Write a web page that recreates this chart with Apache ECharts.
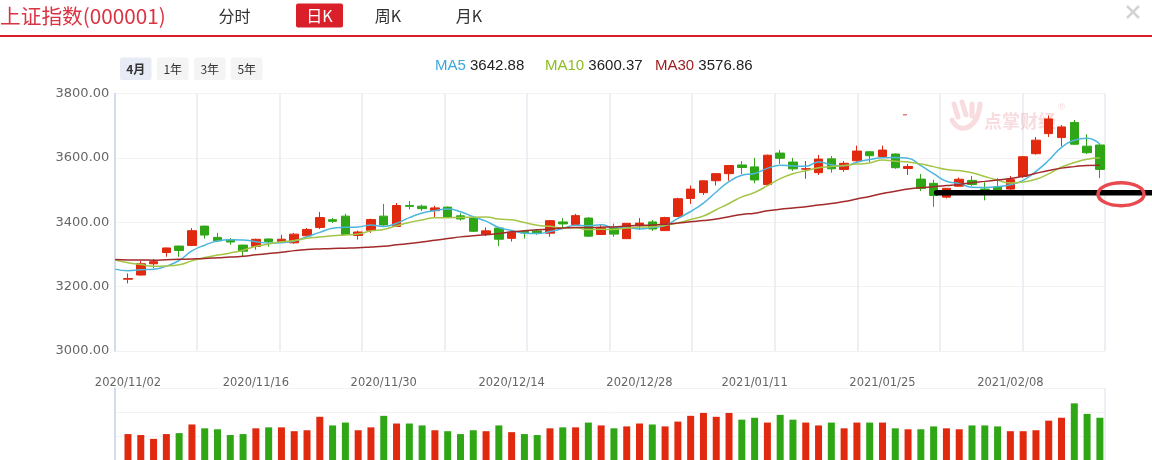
<!DOCTYPE html>
<html><head><meta charset="utf-8">
<script src="https://cdn.jsdelivr.net/npm/echarts@6/dist/echarts.min.js"></script>
<style>html,body{margin:0;padding:0;background:#fff;}#c{width:1152px;height:460px;}</style>
</head><body><div id="c"></div>
<script>
// ---------------- data ----------------
const title = '上证指数(000001)';
const viewTabs = ['分时', '日K', '周K', '月K'];
const periodTabs = ['4月', '1年', '3年', '5年'];
const dates = [
 '2020/11/02','2020/11/03','2020/11/04','2020/11/05','2020/11/06','2020/11/09','2020/11/10','2020/11/11','2020/11/12','2020/11/13',
 '2020/11/16','2020/11/17','2020/11/18','2020/11/19','2020/11/20','2020/11/23','2020/11/24','2020/11/25','2020/11/26','2020/11/27',
 '2020/11/30','2020/12/01','2020/12/02','2020/12/03','2020/12/04','2020/12/07','2020/12/08','2020/12/09','2020/12/10','2020/12/11',
 '2020/12/14','2020/12/15','2020/12/16','2020/12/17','2020/12/18','2020/12/21','2020/12/22','2020/12/23','2020/12/24','2020/12/25',
 '2020/12/28','2020/12/29','2020/12/30','2020/12/31','2021/01/04','2021/01/05','2021/01/06','2021/01/07','2021/01/08','2021/01/11',
 '2021/01/12','2021/01/13','2021/01/14','2021/01/15','2021/01/18','2021/01/19','2021/01/20','2021/01/21','2021/01/22','2021/01/25',
 '2021/01/26','2021/01/27','2021/01/28','2021/01/29','2021/02/01','2021/02/02','2021/02/03','2021/02/04','2021/02/05','2021/02/08',
 '2021/02/09','2021/02/10','2021/02/18','2021/02/19','2021/02/22','2021/02/23','2021/02/24'];
const opens = [
 3223,3236,3271,3306,3326,3328,3388,3353,3346,3329,
 3325,3348,3340,3336,3358,3384,3408,3419,3359,3375,
 3419,3387,3452,3450,3436,3447,3420,3415,3363,3382,
 3350,3371,3373,3366,3401,3393,3413,3362,3384,3349,
 3391,3401,3374,3418,3474,3492,3529,3551,3578,3572,
 3517,3615,3587,3565,3554,3597,3564,3591,3619,3604,
 3612,3567,3534,3521,3478,3512,3530,3503,3510,3503,
 3542,3613,3721,3663,3710,3616,3640];
const closes = [
 3225.12,3271.07,3277.44,3320.13,3312.16,3373.73,3360.15,3342.20,3338.68,3310.10,
 3346.97,3339.90,3347.30,3363.09,3377.73,3414.49,3402.82,3362.33,3369.73,3408.31,
 3391.76,3451.94,3449.38,3442.14,3444.58,3416.60,3410.18,3371.96,3373.28,3347.19,
 3369.12,3367.23,3366.98,3404.87,3394.90,3420.57,3356.78,3382.32,3363.11,3396.56,
 3397.29,3379.04,3414.45,3473.07,3502.96,3528.68,3550.88,3576.20,3570.11,3531.50,
 3608.34,3598.65,3565.90,3566.38,3596.22,3566.00,3583.13,3621.26,3606.75,3624.24,
 3569.43,3573.34,3505.18,3483.07,3505.28,3533.68,3517.31,3501.86,3496.33,3532.44,
 3603.49,3655.09,3675.36,3696.17,3642.44,3636.36,3564.08];
const highs = [
 3241,3280,3286,3321,3327,3382,3389,3367,3351,3330,
 3349,3349,3361,3367,3382,3432,3413,3426,3374,3411,
 3457,3460,3466,3455,3451,3449,3428,3418,3384,3383,
 3374,3376,3376,3407,3413,3426,3416,3392,3396,3397,
 3413,3407,3417,3476,3514,3529,3553,3578,3590,3600,
 3610,3625,3600,3590,3609,3606,3590,3638,3621,3638,
 3614,3581,3550,3532,3506,3539,3544,3524,3537,3544,
 3606,3665,3732,3702,3718,3673,3646];
const lows = [
 3210,3235,3258,3293,3293,3326,3349,3340,3330,3293,
 3315,3324,3339,3333,3357,3379,3398,3362,3346,3367,
 3389,3386,3440,3435,3416,3416,3405,3370,3357,3326,
 3340,3349,3361,3355,3381,3392,3355,3361,3355,3348,
 3376,3373,3373,3417,3457,3485,3514,3529,3550,3521,
 3516,3581,3560,3535,3547,3554,3557,3588,3587,3600,
 3566,3547,3497,3448,3474,3510,3513,3468,3494,3499,
 3538,3610,3665,3636,3640,3612,3537];
// closes of the 30 sessions before the window (for moving averages)
const preCloses = [
 3260.35,3278.81,3295.68,3283.92,3270.44,3338.09,3316.94,3274.30,3279.71,3223.18,
 3219.42,3217.53,3224.36,3218.05,3272.08,3358.47,3359.75,3340.47,3332.18,3336.36,
 3312.50,3328.10,3325.03,3312.49,3278.00,3251.12,3254.32,3269.24,3272.74,3224.53];
const volumes = [
 108,104,88,108,112,148,132,128,104,108,
 132,136,136,120,124,180,144,156,124,136,
 184,152,152,144,124,120,108,124,120,144,
 116,108,104,132,136,136,156,144,132,140,
 152,148,140,160,184,196,180,196,168,176,
 156,188,168,156,144,156,132,156,156,156,
 132,128,128,140,132,128,144,144,140,120,
 120,124,164,176,236,192,176];
const tickDates = ['2020/11/02','2020/11/16','2020/11/30','2020/12/14','2020/12/28','2021/01/11','2021/01/25','2021/02/08'];
const maPeriods = [5, 10, 30];
const maNames = ['MA5', 'MA10', 'MA30'];
const maLatest = ['3642.88', '3600.37', '3576.86'];
const supportLevel = 3492;
const supportStartDate = '2021/01/29';

// ---------------- styles ----------------
const UP = '#e0290e', DOWN = '#2fa616';
const MA_COLORS = ['#4db6dd', '#a3c646', '#a32a2a'];
const MA_TEXT = ['#3ba7d9', '#8cbd22', '#9e1b1b'];
const NUMFONT = 'DejaVu Sans';
const CJK = '"Noto Sans CJK SC"';
const X_MIN = -1.07, X_MAX = 76.4;

const colorOf = i => {
  const pc = i ? closes[i - 1] : preCloses[preCloses.length - 1];
  return closes[i] >= pc ? UP : DOWN;
};
const candleData = dates.map((d, i) => {
  const c = colorOf(i);
  return { value: [i, opens[i], closes[i], lows[i], highs[i]],
           itemStyle: { color: c, color0: c, borderColor: c, borderColor0: c } };
});
const volData = volumes.map((v, i) => ({ value: [i, v], itemStyle: { color: colorOf(i) } }));
const all = preCloses.concat(closes);
function ma(n) {
  const out = [];
  for (let i = -1; i < closes.length; i++) {
    const end = i + preCloses.length;
    let s = 0;
    for (let k = end - n + 1; k <= end; k++) s += all[k];
    out.push([i, +(s / n).toFixed(2)]);
  }
  return out;
}
const tickIdx = tickDates.map(d => dates.indexOf(d));

const chart = echarts.init(document.getElementById('c'), null, { renderer: 'canvas', width: 1152, height: 460 });
const gridLine = '#e6ebf2';
chart.setOption({
  animation: false,
  backgroundColor: '#fff',
  grid: [
    { left: 114.3, right: 47, top: 93.5, height: 257.5 },
    { left: 114.3, right: 47, top: 388, height: 75 }
  ],
  xAxis: [
    { type: 'value', gridIndex: 0, min: X_MIN, max: X_MAX,
      axisLine: { show: false, onZero: false }, axisTick: { show: false }, splitLine: { show: false },
      axisLabel: { customValues: tickIdx, formatter: v => dates[Math.round(v)] || '',
                   color: '#666', fontSize: 11.5, fontFamily: NUMFONT, margin: 26 } },
    { type: 'value', gridIndex: 0, min: 0, max: 12, interval: 1,
      axisLine: { show: false, onZero: false }, axisTick: { show: false }, axisLabel: { show: false },
      splitLine: { show: true, lineStyle: { color: gridLine, width: 1.5 } } },
    { type: 'value', gridIndex: 1, min: X_MIN, max: X_MAX,
      axisLine: { show: false, onZero: false }, axisTick: { show: false }, axisLabel: { show: false }, splitLine: { show: false } },
    { type: 'value', gridIndex: 1, min: 0, max: 1, interval: 1,
      axisLine: { show: false, onZero: false }, axisTick: { show: false }, axisLabel: { show: false },
      splitLine: { show: true, lineStyle: { color: gridLine, width: 1.5 } } }
  ],
  yAxis: [
    { type: 'value', gridIndex: 0, min: 3000, max: 3800, interval: 200,
      axisLine: { show: true, onZero: false, lineStyle: { color: '#c8d7ea', width: 1.5 } }, axisTick: { show: false },
      axisLabel: { formatter: v => v.toFixed(2), color: '#666', fontSize: 13, fontFamily: NUMFONT, margin: 5 },
      splitLine: { lineStyle: { color: '#f3f3f3' } } },
    { type: 'value', gridIndex: 1, min: 0, max: 300, interval: 100,
      axisLine: { show: true, onZero: false, lineStyle: { color: '#c8d7ea', width: 1.5 } }, axisTick: { show: false },
      axisLabel: { show: false }, splitLine: { lineStyle: { color: '#f3f3f3' } } }
  ],
  series: [
    { type: 'candlestick', xAxisIndex: 0, yAxisIndex: 0, barWidth: 9, data: candleData,
      itemStyle: { borderWidth: 1 } },
    ...maPeriods.map((n, k) => ({
      type: 'line', name: maNames[k], xAxisIndex: 0, yAxisIndex: 0, data: ma(n),
      showSymbol: false, smooth: true, z: 3,
      lineStyle: { color: MA_COLORS[k], width: 1.5 } })),
    { type: 'bar', xAxisIndex: 2, yAxisIndex: 1, barWidth: 7, data: volData }
  ]
});

// ---------------- graphics (header, legend, watermark, annotation) ----------------
const g = [];
g.push({ type: 'text', x: 0, y: 16, style: { text: title, fill: '#da3443', font: '20.7px ' + CJK, verticalAlign: 'middle' } });
const tabX = [234.5, 319.5, 388, 469];
viewTabs.forEach((t, i) => {
  if (i === 1) g.push({ type: 'rect', shape: { x: 296, y: 3.5, width: 47, height: 24, r: 2 }, style: { fill: '#d9202a' } });
  g.push({ type: 'text', x: tabX[i], y: 16, style: { text: t, fill: i === 1 ? '#fff' : '#333', font: '16px ' + CJK, align: 'center', verticalAlign: 'middle' } });
});
g.push({ type: 'rect', shape: { x: 0, y: 35, width: 1152, height: 2 }, style: { fill: '#d7202b' } });
g.push({ type: 'line', shape: { x1: 1127, y1: 6, x2: 1139, y2: 18 }, style: { stroke: '#d3d3d3', lineWidth: 2.5 } });
g.push({ type: 'line', shape: { x1: 1139, y1: 6, x2: 1127, y2: 18 }, style: { stroke: '#d3d3d3', lineWidth: 2.5 } });
periodTabs.forEach((t, i) => {
  const x = 120 + i * 37;
  g.push({ type: 'rect', shape: { x: x, y: 57.5, width: 31.5, height: 22.5, r: 2 }, style: { fill: i === 0 ? '#e6ebf5' : '#f4f4f4' } });
  g.push({ type: 'text', x: x + 15.75, y: 69, style: { text: t, fill: '#333', font: (i === 0 ? 'bold ' : '') + '12px ' + CJK, align: 'center', verticalAlign: 'middle' } });
});
const legX = [435, 545, 655];
maNames.forEach((n, k) => {
  g.push({ type: 'text', x: legX[k], y: 66, style: {
    text: '{n|' + n + '} {v|' + maLatest[k] + '}', font: '15px "Liberation Sans"', verticalAlign: 'middle',
    rich: { n: { fill: MA_TEXT[k], font: '15px "Liberation Sans"' }, v: { fill: '#222', font: '15px "Liberation Sans"' } } } });
});
// watermark
const wm = 'rgba(222,96,108,0.22)';
g.push({ type: 'text', x: 984, y: 121, style: { text: '点掌财经', fill: wm, font: 'bold 18px ' + CJK, verticalAlign: 'middle' } });
g.push({ type: 'text', x: 1057, y: 108, style: { text: '®', fill: wm, font: '9px "DejaVu Sans"', verticalAlign: 'middle' } });
[[954, 104, 958, 117], [962, 102, 966, 115], [972, 104, 972, 116]].forEach(s =>
  g.push({ type: 'line', shape: { x1: s[0], y1: s[1], x2: s[2], y2: s[3] }, style: { stroke: wm, lineWidth: 5, lineCap: 'round' } }));
g.push({ type: 'bezierCurve', shape: { x1: 952, y1: 120, x2: 980, y2: 104, cpx1: 960, cpy1: 136, cpx2: 978, cpy2: 128 }, style: { stroke: wm, lineWidth: 5, lineCap: 'round', fill: 'none' } });
g.push({ type: 'rect', shape: { x: 903, y: 114, width: 4, height: 1.5 }, style: { fill: '#e57c7c' } });
// annotation: support line + red ellipse
const p0 = chart.convertToPixel({ xAxisIndex: 0, yAxisIndex: 0 }, [dates.indexOf(supportStartDate), supportLevel]);
g.push({ type: 'line', z: 100, shape: { x1: p0[0] + 3, y1: p0[1], x2: 1152, y2: p0[1] }, style: { stroke: '#000', lineWidth: 5.5, lineCap: 'round' } });
g.push({ type: 'ellipse', z: 101, shape: { cx: 1121, cy: p0[1] + 1.5, rx: 23, ry: 11.5 }, style: { stroke: '#e84a4f', lineWidth: 3.5, fill: 'none' } });
chart.setOption({ graphic: g });
</script></body></html>
